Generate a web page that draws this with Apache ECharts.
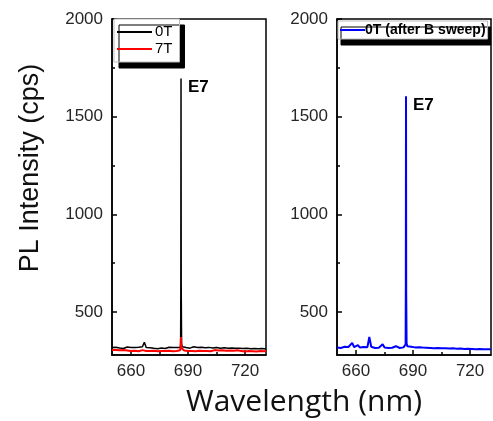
<!DOCTYPE html>
<html><head><meta charset="utf-8">
<script src="https://cdn.jsdelivr.net/npm/echarts@6/dist/echarts.min.js"></script>
<style>html,body{margin:0;padding:0;background:#fff}#c{width:493px;height:421px}</style>
</head><body><div id="c"></div>
<script>
// Wavelength grid (nm)
const wavelength = [650,651,652,653,654,655,656,657,658,659,660,661,662,663,664,665,666,667,668,669,670,671,672,673,674,675,676,677,678,679,680,681,682,683,684,685,
  685.8,686.1,686.2,686.3,686.4,686.6,687,
  688,689,690,691,692,693,694,695,696,697,698,699,700,701,702,703,704,705,706,707,708,709,710,711,712,713,714,715,716,717,718,719,720,721,722,723,724,725,726,727,728,729,730,731];
// PL intensity (cps)
const int0T = [318,312,320,314,316,322,313,317,321,314,318,312,319,315,320,316,322,345,318,313,317,320,314,318,312,319,316,321,313,317,320,314,318,312,319,316,
  318,330,628,1695,640,335,322,
  324,318,321,315,319,322,314,318,316,320,313,317,315,319,312,316,314,318,311,315,313,317,311,314,312,316,310,314,312,315,309,313,311,314,309,312,310,313,308,312,310,313,309,311];
const int7T = [305,300,306,302,304,299,305,301,303,307,300,304,302,306,299,303,305,312,301,304,300,306,302,305,299,303,301,305,300,304,302,306,299,303,301,305,
  304,320,350,372,345,315,306,
  303,306,300,304,301,305,299,303,302,306,300,304,301,303,299,302,305,300,303,301,304,299,302,300,303,298,302,300,304,299,301,303,298,302,300,303,299,301,298,302,300,303,299,301];
const int0Tafter = [318,320,316,319,322,317,321,318,342,320,317,330,319,316,321,318,320,372,322,318,316,320,317,319,335,318,321,316,319,317,322,325,318,316,320,319,
  322,335,640,1604,600,340,325,
  326,322,324,319,323,320,322,318,321,317,320,316,319,315,318,316,319,314,317,315,318,313,316,314,317,312,315,313,316,311,314,312,315,311,313,310,314,311,312,310,313,309,312,310];
const xTicks = [660,690,720];
const xMinor = [675,705];
const yTicks = [500,1000,1500,2000];
const yMinor = [750,1250,1750];
const peakLabel = 'E7';
const peak0T = [686.3,1695];
const peakAfter = [686.3,1604];

const pairs = (ys) => wavelength.map((w,i)=>[w,ys[i]]);
const X_MIN=650, X_MAX=731, Y_MIN=280, Y_MAX=2000;
const lbl = {color:'#262626', fontFamily:'Liberation Sans, Arial', fontSize:17, formatter:(v)=>String(v)};

function xMain(g){return {type:'value',gridIndex:g,min:X_MIN,max:X_MAX,
  axisLine:{show:true,lineStyle:{color:'#000',width:1.5}},
  axisTick:{show:true,inside:true,length:5,customValues:xTicks,lineStyle:{color:'#000',width:1.5}},
  axisLabel:Object.assign({customValues:xTicks,margin:8},lbl),splitLine:{show:false}};}
function xMin(g){return {type:'value',gridIndex:g,min:X_MIN,max:X_MAX,position:'bottom',
  axisLine:{show:false},axisTick:{show:true,inside:true,length:3,customValues:xMinor,lineStyle:{color:'#000',width:1.5}},
  axisLabel:{show:false},splitLine:{show:false}};}
function yMain(g){return {type:'value',gridIndex:g,min:Y_MIN,max:Y_MAX,
  axisLine:{show:true,lineStyle:{color:'#000',width:1.5}},
  axisTick:{show:true,inside:true,length:5,customValues:yTicks,lineStyle:{color:'#000',width:1.5}},
  axisLabel:Object.assign({customValues:yTicks,margin:9},lbl),splitLine:{show:false}};}
function yMin(g){return {type:'value',gridIndex:g,min:Y_MIN,max:Y_MAX,position:'left',
  axisLine:{show:false},axisTick:{show:true,inside:true,length:3,customValues:yMinor,lineStyle:{color:'#000',width:1.5}},
  axisLabel:{show:false},splitLine:{show:false}};}

function mark(coord){return {symbol:'circle',symbolSize:0,silent:true,
  data:[{coord:coord,value:peakLabel}],
  label:{show:true,position:'right',offset:[2,9],formatter:peakLabel,color:'#000',fontFamily:'Liberation Sans, Arial',fontWeight:'bold',fontSize:17}};}

const chart = echarts.init(document.getElementById('c'),null,{renderer:'canvas'});
chart.setOption({
  animation:false,
  backgroundColor:'#fff',
  grid:[
    {left:112,right:227,top:19,bottom:66,show:true,borderColor:'#000',borderWidth:1.5,backgroundColor:'transparent'},
    {left:337,right:2,top:19,bottom:66,show:true,borderColor:'#000',borderWidth:1.5,backgroundColor:'transparent'}
  ],
  xAxis:[xMain(0),xMin(0),xMain(1),xMin(1)],
  yAxis:[yMain(0),yMin(0),yMain(1),yMin(1)],
  legend:[
    {data:['0T','7T'],left:114,top:19,orient:'vertical',itemGap:1,itemWidth:35,itemHeight:2,icon:'rect',
     padding:[5,7,5,3],backgroundColor:'#fff',borderColor:'#bbb',borderWidth:1,
     shadowColor:'#000',shadowBlur:0,shadowOffsetX:5,shadowOffsetY:6,
     textStyle:{fontFamily:'Liberation Sans, Arial',fontSize:15,color:'#000',lineHeight:16,padding:[0,0,0,-2]}},
    {data:['0T (after B sweep)'],left:338,top:21,itemWidth:25,itemHeight:2,icon:'rect',
     padding:[2,2,2,2],backgroundColor:'#fff',borderColor:'#bbb',borderWidth:1,
     shadowColor:'#000',shadowBlur:0,shadowOffsetX:3,shadowOffsetY:6,
     textStyle:{fontFamily:'Liberation Sans, Arial',fontSize:14,fontWeight:'bold',color:'#000',padding:[0,0,0,-5]}}
  ],
  series:[
    {name:'0T',type:'line',xAxisIndex:0,yAxisIndex:0,data:pairs(int0T),showSymbol:false,
     lineStyle:{color:'#000',width:1.5},itemStyle:{color:'#000'},markPoint:mark(peak0T)},
    {name:'7T',type:'line',xAxisIndex:0,yAxisIndex:0,data:pairs(int7T),showSymbol:false,
     lineStyle:{color:'#ff0000',width:2},itemStyle:{color:'#ff0000'}},
    {name:'0T (after B sweep)',type:'line',xAxisIndex:2,yAxisIndex:2,data:pairs(int0Tafter),showSymbol:false,
     lineStyle:{color:'#0000ff',width:2},itemStyle:{color:'#0000ff'},markPoint:mark(peakAfter)}
  ],
  graphic:[
    {type:'text',x:31,y:168,rotation:Math.PI/2,style:{text:'PL Intensity (cps)',fill:'#111',font:'27px "Liberation Sans", Arial',align:'center',verticalAlign:'middle'}},
    {type:'text',x:304,y:402,style:{text:'Wavelength (nm)',fill:'#111',font:'30px "Open Sans"',align:'center',verticalAlign:'middle'}}
  ]
});
</script></body></html>
